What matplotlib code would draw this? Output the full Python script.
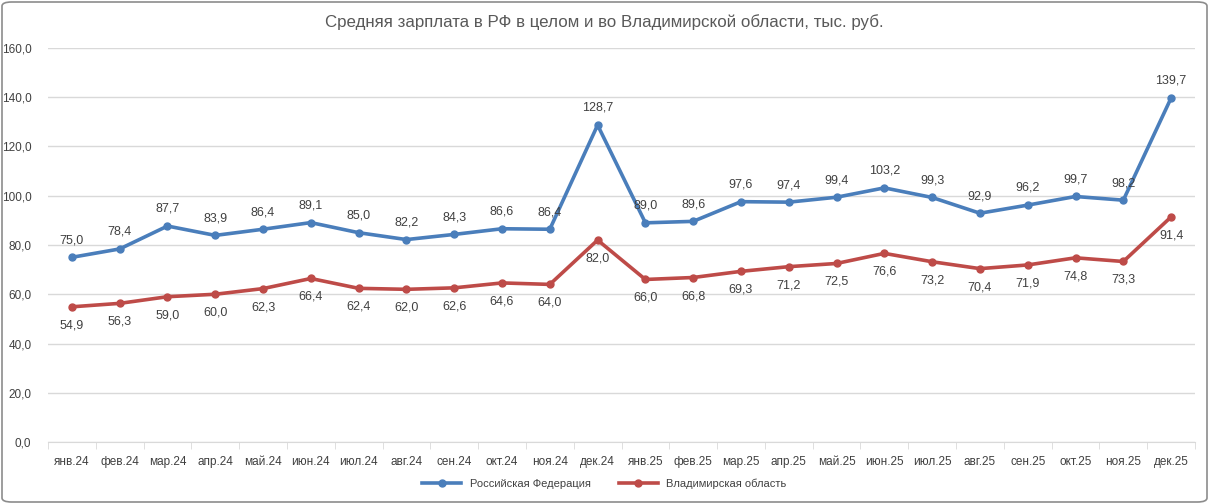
import matplotlib.pyplot as plt
from matplotlib.patches import FancyBboxPatch

plt.rcParams['font.family'] = ['Liberation Sans', 'DejaVu Sans']

# === Data ===
months = ["янв.24", "фев.24", "мар.24", "апр.24", "май.24", "июн.24", "июл.24", "авг.24",
          "сен.24", "окт.24", "ноя.24", "дек.24", "янв.25", "фев.25", "мар.25", "апр.25",
          "май.25", "июн.25", "июл.25", "авг.25", "сен.25", "окт.25", "ноя.25", "дек.25"]
rf = [75.0, 78.4, 87.7, 83.9, 86.4, 89.1, 85.0, 82.2, 84.3, 86.6, 86.4, 128.7,
      89.0, 89.6, 97.6, 97.4, 99.4, 103.2, 99.3, 92.9, 96.2, 99.7, 98.2, 139.7]
vlad = [54.9, 56.3, 59.0, 60.0, 62.3, 66.4, 62.4, 62.0, 62.6, 64.6, 64.0, 82.0,
        66.0, 66.8, 69.3, 71.2, 72.5, 76.6, 73.2, 70.4, 71.9, 74.8, 73.3, 91.4]

blue = "#4A7EBB"
red = "#BE4B48"
txt = "#404040"

def fmt(v):
    return f"{v:.1f}".replace(".", ",")

fig = plt.figure(figsize=(12.09, 5.04), dpi=100)
ax = fig.add_axes([48 / 1209, 62 / 504, 1147 / 1209, 394 / 504])

x = list(range(len(months)))
ax.plot(x, rf, color=blue, lw=2.6, marker="o", ms=5, label="Российская Федерация")
ax.plot(x, vlad, color=red, lw=2.6, marker="o", ms=5, label="Владимирская область")

# data labels: RF above, region below
for i in x:
    ax.annotate(fmt(rf[i]), (i, rf[i]), xytext=(0, 8), textcoords="offset points",
                ha="center", va="bottom", fontsize=9, color=txt)
    ax.annotate(fmt(vlad[i]), (i, vlad[i]), xytext=(0, -9), textcoords="offset points",
                ha="center", va="top", fontsize=9, color=txt)

ax.set_xlim(-0.5, len(months) - 0.5)
ax.set_ylim(0, 160)
ax.set_yticks(range(0, 161, 20))
ax.set_yticklabels([fmt(v) for v in range(0, 161, 20)], fontsize=8.5, color=txt)
ax.set_xticks(x)
ax.set_xticklabels(months, fontsize=8.5, color=txt)
ax.set_xticks([i - 0.5 for i in range(len(months) + 1)], minor=True)
ax.tick_params(axis="x", which="major", length=0, pad=10)
ax.tick_params(axis="x", which="minor", length=5, color="#d9d9d9")
ax.tick_params(axis="y", length=0, pad=12)
ax.grid(axis="y", color="#d9d9d9", lw=1)
ax.set_axisbelow(True)
for s in ["top", "right", "left"]:
    ax.spines[s].set_visible(False)
ax.spines["bottom"].set_color("#d9d9d9")

fig.text(0.5, 1 - 22 / 504, "Средняя зарплата в РФ в целом и во Владимирской области, тыс. руб.",
         ha="center", va="center", fontsize=12.2, color="#595959")

fig.legend(loc="center", bbox_to_anchor=(0.5, 1 - 484 / 504), ncol=2, frameon=False,
           fontsize=8, labelcolor=txt, handlelength=3.5, columnspacing=2.5)

border = FancyBboxPatch((2 / 1209, 2 / 504), 1 - 4 / 1209, 1 - 4 / 504,
                        boxstyle="round,pad=0,rounding_size=0.008", transform=fig.transFigure,
                        fill=False, ec="#8c8c8c", lw=1.2)
fig.patches.append(border)

fig.savefig("out.png", dpi=100)
